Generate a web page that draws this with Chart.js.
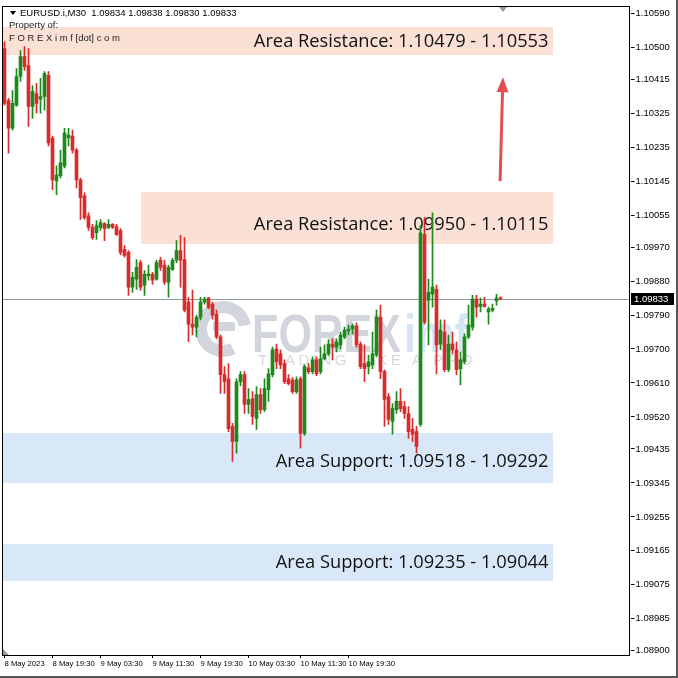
<!DOCTYPE html>
<html>
<head>
<meta charset="utf-8">
<script src="https://cdn.jsdelivr.net/npm/chart.js@4.4.0/dist/chart.umd.min.js"></script>
<style>
	html, body { margin: 0; padding: 0; background: #ffffff; }
	#wrap { width: 678px; height: 678px; }
</style>
</head>
<body>
<div id="wrap"><canvas id="grafico" width="678" height="678"></canvas></div>
<script>
// EURUSD M30 candles, oldest first
const open = [
	1.10496, 1.10359, 1.10285, 1.10346, 1.10422, 1.10475, 1.10451, 1.10343, 1.10377, 1.10362,
	1.10369, 1.10425, 1.10259, 1.10145, 1.10159, 1.10185, 1.10259, 1.10264, 1.10227, 1.10148,
	1.10106, 1.10053, 1.10022, 1.10008, 1.10022, 1.10032, 1.10022, 1.10030, 1.10024, 1.10014,
	1.09964, 1.09956, 1.09864, 1.09885, 1.09929, 1.09869, 1.09894, 1.09898, 1.09885, 1.09935,
	1.09922, 1.09877, 1.09911, 1.09935, 1.09961, 1.09937, 1.09824, 1.09766, 1.09758, 1.09784,
	1.09824, 1.09835, 1.09819, 1.09792, 1.09732, 1.09632, 1.09621, 1.09495, 1.09455, 1.09613,
	1.09632, 1.09553, 1.09568, 1.09516, 1.09579, 1.09539, 1.09592, 1.09632, 1.09700, 1.09687,
	1.09661, 1.09621, 1.09618, 1.09587, 1.09621, 1.09476, 1.09650, 1.09640, 1.09671, 1.09640,
	1.09674, 1.09687, 1.09713, 1.09705, 1.09711, 1.09732, 1.09748, 1.09753, 1.09761, 1.09713,
	1.09661, 1.09653, 1.09658, 1.09684, 1.09784, 1.09640, 1.09574, 1.09508, 1.09539, 1.09561,
	1.09547, 1.09529, 1.09487, 1.09481, 1.09500, 1.10003, 1.09829, 1.09845, 1.09858, 1.09713,
	1.09745, 1.09645, 1.09713, 1.09698, 1.09648, 1.09666, 1.09732, 1.09758, 1.09832, 1.09813,
	1.09819, 1.09798, 1.09803, 1.09827, 1.09834
];
const high = [
	1.10514, 1.10364, 1.10385, 1.10443, 1.10491, 1.10501, 1.10496, 1.10398, 1.10404, 1.10417,
	1.10435, 1.10435, 1.10264, 1.10185, 1.10227, 1.10285, 1.10285, 1.10280, 1.10232, 1.10153,
	1.10114, 1.10061, 1.10030, 1.10040, 1.10043, 1.10035, 1.10043, 1.10032, 1.10030, 1.10019,
	1.09974, 1.09961, 1.09903, 1.09937, 1.09935, 1.09908, 1.09922, 1.09903, 1.09935, 1.09943,
	1.09935, 1.09922, 1.09940, 1.09987, 1.10001, 1.09995, 1.09837, 1.09856, 1.09790, 1.09837,
	1.09837, 1.09837, 1.09824, 1.09803, 1.09737, 1.09653, 1.09661, 1.09503, 1.09621, 1.09640,
	1.09640, 1.09595, 1.09587, 1.09600, 1.09595, 1.09621, 1.09648, 1.09705, 1.09713, 1.09698,
	1.09671, 1.09632, 1.09624, 1.09626, 1.09626, 1.09658, 1.09661, 1.09679, 1.09679, 1.09705,
	1.09711, 1.09724, 1.09727, 1.09727, 1.09745, 1.09758, 1.09763, 1.09766, 1.09769, 1.09719,
	1.09711, 1.09684, 1.09745, 1.09803, 1.09816, 1.09645, 1.09582, 1.09555, 1.09587, 1.09595,
	1.09561, 1.09547, 1.09516, 1.09495, 1.10027, 1.10048, 1.09885, 1.10061, 1.09869, 1.09777,
	1.09777, 1.09737, 1.09745, 1.09719, 1.09692, 1.09740, 1.09816, 1.09842, 1.09842, 1.09835,
	1.09837, 1.09811, 1.09819, 1.09845, 1.09838
];
const low = [
	1.10346, 1.10219, 1.10280, 1.10343, 1.10409, 1.10438, 1.10290, 1.10311, 1.10325, 1.10325,
	1.10333, 1.10238, 1.10122, 1.10109, 1.10153, 1.10180, 1.10238, 1.10219, 1.10127, 1.10043,
	1.10043, 1.10014, 1.09990, 1.09990, 1.10014, 1.09987, 1.10019, 1.10019, 1.10001, 1.09950,
	1.09943, 1.09842, 1.09850, 1.09858, 1.09856, 1.09842, 1.09882, 1.09871, 1.09882, 1.09908,
	1.09871, 1.09837, 1.09908, 1.09929, 1.09864, 1.09798, 1.09719, 1.09737, 1.09732, 1.09777,
	1.09819, 1.09806, 1.09779, 1.09727, 1.09582, 1.09582, 1.09481, 1.09402, 1.09424, 1.09603,
	1.09529, 1.09529, 1.09500, 1.09487, 1.09529, 1.09534, 1.09561, 1.09626, 1.09648, 1.09648,
	1.09608, 1.09605, 1.09582, 1.09582, 1.09437, 1.09471, 1.09634, 1.09634, 1.09629, 1.09634,
	1.09671, 1.09682, 1.09671, 1.09692, 1.09700, 1.09727, 1.09737, 1.09740, 1.09705, 1.09648,
	1.09613, 1.09634, 1.09648, 1.09679, 1.09621, 1.09495, 1.09500, 1.09474, 1.09529, 1.09534,
	1.09516, 1.09463, 1.09455, 1.09424, 1.09495, 1.09766, 1.09711, 1.09811, 1.09634, 1.09698,
	1.09640, 1.09640, 1.09687, 1.09632, 1.09605, 1.09661, 1.09727, 1.09750, 1.09784, 1.09798,
	1.09811, 1.09766, 1.09798, 1.09816, 1.09830
];
const close = [
	1.10351, 1.10285, 1.10351, 1.10422, 1.10475, 1.10448, 1.10343, 1.10383, 1.10351, 1.10369,
	1.10430, 1.10246, 1.10148, 1.10161, 1.10193, 1.10272, 1.10267, 1.10227, 1.10148, 1.10101,
	1.10048, 1.10022, 1.09995, 1.10027, 1.10035, 1.10019, 1.10030, 1.10023, 1.10003, 1.09956,
	1.09948, 1.09864, 1.09890, 1.09916, 1.09864, 1.09898, 1.09899, 1.09882, 1.09929, 1.09916,
	1.09877, 1.09916, 1.09935, 1.09961, 1.09935, 1.09803, 1.09766, 1.09758, 1.09784, 1.09824,
	1.09832, 1.09811, 1.09790, 1.09732, 1.09632, 1.09613, 1.09489, 1.09455, 1.09613, 1.09632,
	1.09553, 1.09566, 1.09521, 1.09579, 1.09539, 1.09595, 1.09634, 1.09698, 1.09666, 1.09658,
	1.09613, 1.09608, 1.09587, 1.09618, 1.09476, 1.09653, 1.09640, 1.09671, 1.09634, 1.09674,
	1.09687, 1.09713, 1.09705, 1.09719, 1.09737, 1.09750, 1.09753, 1.09761, 1.09711, 1.09653,
	1.09648, 1.09666, 1.09687, 1.09784, 1.09640, 1.09566, 1.09513, 1.09542, 1.09561, 1.09542,
	1.09529, 1.09481, 1.09474, 1.09442, 1.10008, 1.09771, 1.09850, 1.09864, 1.09711, 1.09750,
	1.09645, 1.09713, 1.09698, 1.09645, 1.09671, 1.09732, 1.09763, 1.09832, 1.09811, 1.09819,
	1.09813, 1.09806, 1.09808, 1.09835, 1.09833
];

const xLabels = ['8 May 2023', '8 May 19:30', '9 May 03:30', '9 May 11:30', '9 May 19:30', '10 May 03:30', '10 May 11:30', '10 May 19:30'];
const xLabelBars = [0, 12, 24, 37, 49, 61, 74, 86];
const yTicks = [1.10590, 1.10500, 1.10415, 1.10325, 1.10235, 1.10145, 1.10055, 1.09970, 1.09880, 1.09790,
	1.09700, 1.09610, 1.09520, 1.09435, 1.09345, 1.09255, 1.09165, 1.09075, 1.08985, 1.08900];
const yMin = 1.08889;
const yMax = 1.10607;
const currentPrice = 1.09833;

// price zones drawn as rectangles
const zoneNames = ['Area Resistance: 1.10479 - 1.10553', 'Area Resistance: 1.09950 - 1.10115', 'Area Support: 1.09518 - 1.09292', 'Area Support: 1.09235 - 1.09044'];
const zoneLow = [1.10479, 1.09977, 1.09344, 1.09084];
const zoneHigh = [1.10553, 1.10116, 1.09476, 1.09184];
const zoneStartBar = [-0.5, 34, -0.5, -0.5];
const zoneEndBar = [137, 137, 137, 137];
const zoneTextPrice = [1.10514, 1.10030, 1.09400, 1.09134];
const zoneColors = ['#fbe1d5', '#fbe1d5', '#d9e8f8', '#d9e8f8'];

const arrowFrom = [123.9, 1.10145];
const arrowTo = [124.6, 1.10420];

const NUM_BARS = 157;
const COR_ALTA = '#1b8a1b';
const COR_BAIXA = '#d92b2b';
const FONTE = '"Liberation Sans", Arial, sans-serif';

const barLabels = Array.from({ length: NUM_BARS }, (_, i) => String(i));
const candleColors = open.map((o, i) => close[i] >= o ? COR_ALTA : COR_BAIXA);
const bodies = open.map((o, i) => [o, close[i]]);
const wicks = low.map((l, i) => [l, high[i]]);

const zonasPlugin = {
	id: 'zonas',
	beforeDatasetsDraw(chart) {
		const { ctx, chartArea, scales: { x, y } } = chart;
		ctx.save();
		ctx.beginPath();
		ctx.rect(chartArea.left, chartArea.top, chartArea.right - chartArea.left, chartArea.bottom - chartArea.top);
		ctx.clip();

		zoneLow.forEach((lo, i) => {
			const x0 = Math.round(x.getPixelForValue(zoneStartBar[i]));
			const x1 = Math.round(x.getPixelForValue(zoneEndBar[i]));
			const y0 = Math.round(y.getPixelForValue(zoneHigh[i]));
			const y1 = Math.round(y.getPixelForValue(lo));
			ctx.fillStyle = zoneColors[i];
			ctx.fillRect(x0, y0, x1 - x0, y1 - y0);
		});

		// watermark
		ctx.save();
		ctx.strokeStyle = 'rgba(150,155,172,0.42)';
		ctx.lineWidth = 12;
		ctx.beginPath();
		ctx.arc(223, 329, 22, 0.35 * Math.PI, 1.95 * Math.PI);
		ctx.stroke();
		ctx.fillStyle = 'rgba(150,155,172,0.42)';
		ctx.fillRect(213, 322, 22, 9);
		ctx.translate(252, 352);
		ctx.scale(0.8, 1);
		ctx.font = 'bold 54px ' + FONTE;
		ctx.fillText('FOREX', 0, 0);
		const w = ctx.measureText('FOREX').width;
		ctx.fillStyle = 'rgba(150,190,230,0.4)';
		ctx.fillText('imf', w + 4, 0);
		ctx.restore();
		ctx.save();
		ctx.fillStyle = 'rgba(165,168,182,0.45)';
		ctx.font = '15px ' + FONTE;
		ctx.letterSpacing = '3.5px';
		ctx.fillText('TRADING LIKE A PRO', 258, 365);
		ctx.restore();

		// bid line
		const yp = Math.round(y.getPixelForValue(currentPrice)) + 0.5;
		ctx.strokeStyle = '#8c9b9b';
		ctx.lineWidth = 1;
		ctx.beginPath();
		ctx.moveTo(chartArea.left, yp);
		ctx.lineTo(chartArea.right, yp);
		ctx.stroke();

		ctx.fillStyle = '#111';
		ctx.font = '18.3px "Open Sans", sans-serif';
		ctx.textAlign = 'right';
		ctx.textBaseline = 'middle';
		zoneNames.forEach((txt, i) => {
			ctx.fillText(txt, x.getPixelForValue(zoneEndBar[i] - 1), y.getPixelForValue(zoneTextPrice[i]));
		});
		ctx.restore();
	},
	afterDatasetsDraw(chart) {
		const { ctx, chartArea, scales: { x, y } } = chart;
		ctx.save();

		// arrow
		const ax0 = x.getPixelForValue(arrowFrom[0]), ay0 = y.getPixelForValue(arrowFrom[1]);
		const ax1 = x.getPixelForValue(arrowTo[0]), ay1 = y.getPixelForValue(arrowTo[1]);
		const ang = Math.atan2(ay1 - ay0, ax1 - ax0);
		ctx.strokeStyle = '#e05050';
		ctx.fillStyle = '#e05050';
		ctx.lineWidth = 3;
		ctx.beginPath();
		ctx.moveTo(ax0, ay0);
		ctx.lineTo(ax1 - 10 * Math.cos(ang), ay1 - 10 * Math.sin(ang));
		ctx.stroke();
		ctx.beginPath();
		ctx.moveTo(ax1, ay1);
		ctx.lineTo(ax1 - 15 * Math.cos(ang) + 6 * Math.sin(ang), ay1 - 15 * Math.sin(ang) - 6 * Math.cos(ang));
		ctx.lineTo(ax1 - 15 * Math.cos(ang) - 6 * Math.sin(ang), ay1 - 15 * Math.sin(ang) + 6 * Math.cos(ang));
		ctx.closePath();
		ctx.fill();

		// frame
		const l = Math.floor(chartArea.left), t = Math.floor(chartArea.top);
		const r = Math.floor(chartArea.right) - 1, b = Math.floor(chartArea.bottom);
		ctx.fillStyle = '#000';
		ctx.fillRect(l, t, r - l + 1, 1);
		ctx.fillRect(l, b, r - l + 1, 1);
		ctx.fillRect(l, t, 1, b - t);
		ctx.fillRect(r, t, 1, b - t + 1);

		// shift markers
		ctx.fillStyle = '#9a9a9a';
		const sx = Math.round(x.getPixelForValue(124.6));
		ctx.beginPath();
		ctx.moveTo(sx - 4, t + 1);
		ctx.lineTo(sx + 4, t + 1);
		ctx.lineTo(sx, t + 6);
		ctx.closePath();
		ctx.fill();
		ctx.beginPath();
		ctx.moveTo(l + 1, b);
		ctx.lineTo(l + 1, b - 6);
		ctx.lineTo(l + 7, b);
		ctx.closePath();
		ctx.fill();

		// header
		ctx.fillStyle = '#000';
		ctx.beginPath();
		ctx.moveTo(10, 11);
		ctx.lineTo(16, 11);
		ctx.lineTo(13, 15);
		ctx.closePath();
		ctx.fill();
		ctx.font = '9.5px ' + FONTE;
		ctx.textBaseline = 'alphabetic';
		ctx.fillText('EURUSD.i,M30  1.09834 1.09838 1.09830 1.09833', 20, 16);
		ctx.fillStyle = '#222';
		ctx.fillText('Property of:', 9, 28);
		ctx.fillText('F O R E X i m f [dot] c o m', 9, 41);
		ctx.restore();
	},
	afterDraw(chart) {
		const { ctx, scales: { y } } = chart;
		const yp = Math.round(y.getPixelForValue(currentPrice));
		ctx.save();
		ctx.fillStyle = '#000';
		ctx.fillRect(631, yp - 6, 43, 12);
		ctx.fillStyle = '#fff';
		ctx.font = '9.5px ' + FONTE;
		ctx.textBaseline = 'middle';
		ctx.fillText(currentPrice.toFixed(5), 634, yp + 0.5);
		// window border
		ctx.fillStyle = '#555';
		ctx.fillRect(676, 0, 2, 678);
		ctx.fillRect(0, 676, 678, 2);
		ctx.restore();
	}
};

document.addEventListener('DOMContentLoaded', () => {
	const ctx = document.getElementById('grafico').getContext('2d');

	new Chart(ctx, {
		type: 'bar',
		data: {
			labels: barLabels,
			datasets: [{
				data: wicks,
				backgroundColor: candleColors,
				barThickness: 1,
				grouped: false,
				order: 2
			}, {
				data: bodies,
				backgroundColor: candleColors,
				barThickness: 3,
				minBarLength: 1,
				grouped: false,
				order: 1
			}]
		},
		options: {
			responsive: false,
			animation: false,
			layout: { padding: { left: 2.5, top: 3, right: 0, bottom: 0 } },
			plugins: {
				legend: { display: false },
				tooltip: { enabled: false }
			},
			scales: {
				x: {
					type: 'category',
					offset: true,
					afterFit: (axis) => { axis.height = 23; },
					grid: {
						offset: false,
						drawOnChartArea: false,
						drawTicks: true,
						tickLength: 3,
						tickColor: (c) => xLabelBars.includes(c.index) ? '#000' : 'rgba(0,0,0,0)'
					},
					border: { display: false },
					ticks: {
						autoSkip: false,
						maxRotation: 0,
						minRotation: 0,
						align: 'start',
						padding: 1,
						color: '#000',
						font: { family: FONTE, size: 7.7 },
						callback: (v, i) => {
							const k = xLabelBars.indexOf(i);
							return k >= 0 ? xLabels[k] : '';
						}
					}
				},
				y: {
					position: 'right',
					min: yMin,
					max: yMax,
					afterBuildTicks: (axis) => { axis.ticks = yTicks.map(v => ({ value: v })); },
					afterFit: (axis) => { axis.width = 47.5; },
					grid: { drawOnChartArea: false, drawTicks: true, tickLength: 4, color: '#000' },
					border: { display: false },
					ticks: {
						padding: 1,
						color: '#000',
						font: { family: FONTE, size: 9.5 },
						callback: (v) => Number(v).toFixed(5)
					}
				}
			}
		},
		plugins: [zonasPlugin]
	});
});
</script>
</body>
</html>
